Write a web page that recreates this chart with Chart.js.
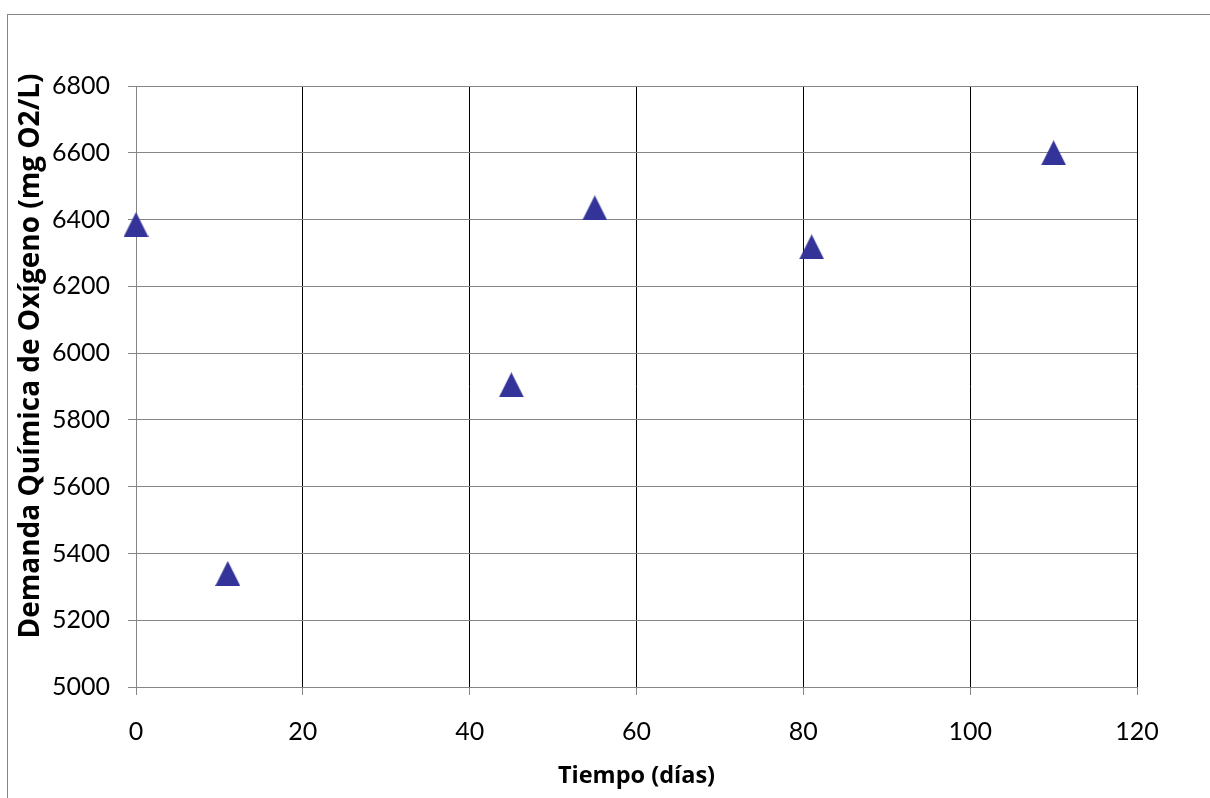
<!DOCTYPE html>
<html lang="es">
<head>
    <meta charset="UTF-8">
    <title>Demanda Química de Oxígeno</title>
    <script src="https://cdn.jsdelivr.net/npm/chart.js"></script>
    <style>
        body { margin: 0; background: #fff; overflow: hidden; }
        canvas { display: block; }
    </style>
</head>
<body>
    <canvas id="dqoChart" width="1210" height="798"></canvas>

    <script>
        // días de muestreo y DQO medida
        const dias = [0, 11, 45, 55, 81, 110];
        const dqo = [6385, 5340, 5905, 6435, 6318, 6600];

        const xTitulo = 'Tiempo (días)';
        const yTitulo = 'Demanda Química de Oxígeno (mg O2/L)';

        const gris = '#868686';
        const azul = '#333399';

        // marcador triangular como en Excel
        function triangulo() {
            const c = document.createElement('canvas');
            c.width = 25; c.height = 25;
            const g = c.getContext('2d');
            g.fillStyle = azul;
            g.beginPath();
            g.moveTo(12.5, 0);
            g.lineTo(25, 25);
            g.lineTo(0, 25);
            g.closePath();
            g.fill();
            return c;
        }

        const marcoYTitulo = {
            id: 'marcoYTitulo',
            beforeDraw(chart) {
                const ctx = chart.ctx;
                ctx.save();
                ctx.strokeStyle = gris;
                ctx.lineWidth = 1;
                ctx.strokeRect(7.5, 14.5, 1400, 1000);
                ctx.restore();
            },
            afterDraw(chart) {
                const ctx = chart.ctx;
                ctx.save();
                ctx.translate(31, 356);
                ctx.rotate(-Math.PI / 2);
                ctx.font = 'bold 28px "Open Sans"';
                ctx.fillStyle = '#000';
                ctx.textAlign = 'center';
                ctx.textBaseline = 'middle';
                ctx.fillText(yTitulo, 0, 0);
                ctx.restore();
            }
        };

        const ctx = document.getElementById('dqoChart').getContext('2d');
        new Chart(ctx, {
            type: 'scatter',
            data: {
                datasets: [{
                    label: 'DQO',
                    data: dias.map((d, i) => ({ x: d, y: dqo[i] })),
                    pointStyle: triangulo(),
                    backgroundColor: azul,
                    borderColor: azul,
                    clip: false
                }]
            },
            options: {
                responsive: false,
                animation: false,
                events: [],
                layout: { padding: { top: 86, right: 73, left: 0, bottom: 0 } },
                plugins: { legend: { display: false }, tooltip: { enabled: false } },
                scales: {
                    x: {
                        type: 'linear',
                        min: 0, max: 120,
                        afterFit: s => { s.height = 111; },
                        ticks: { stepSize: 20, color: '#000', padding: 22, font: { family: 'Lato', size: 25 } },
                        grid: {
                            color: c => (c.tick && c.tick.value === 0) ? gris : '#000',
                            tickColor: gris,
                            tickLength: 8
                        },
                        border: { color: gris },
                        title: {
                            display: true,
                            text: xTitulo,
                            color: '#000',
                            font: { family: 'Open Sans', size: 23.5, weight: 'bold' },
                            padding: { top: 0, bottom: 8 }
                        }
                    },
                    y: {
                        min: 5000, max: 6800,
                        afterFit: s => { s.width = 136; },
                        ticks: {
                            stepSize: 200, color: '#000', padding: 18,
                            font: { family: 'Lato', size: 25 },
                            callback: v => String(v)
                        },
                        grid: { color: gris, tickLength: 8 },
                        border: { color: gris }
                    }
                }
            },
            plugins: [marcoYTitulo]
        });
    </script>
</body>
</html>
